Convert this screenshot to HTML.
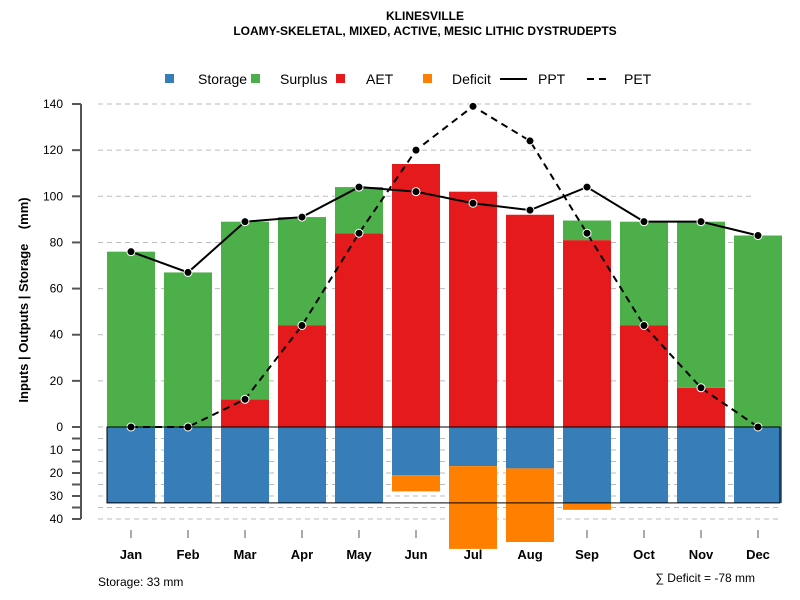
<!DOCTYPE html>
<html><head><meta charset="utf-8"><style>
body{margin:0;background:#fff;}
svg{display:block;font-family:"Liberation Sans",Arial,sans-serif;}
</style></head><body>
<svg id="chart" width="800" height="600" viewBox="0 0 800 600">
<text x="425" y="20" text-anchor="middle" font-size="12" font-weight="bold">KLINESVILLE</text>
<text x="425" y="35" text-anchor="middle" font-size="12" font-weight="bold">LOAMY-SKELETAL, MIXED, ACTIVE, MESIC LITHIC DYSTRUDEPTS</text>
<g id="grid"></g><g id="ticks"></g><g id="bars"></g><g id="lines"></g><g id="axes"></g>
<g font-size="14">
<rect x="165" y="74" width="9" height="9" fill="#377EB8"/>
<text x="198" y="84">Storage</text>
<rect x="251" y="74" width="9" height="9" fill="#4DAF4A"/>
<text x="280" y="84">Surplus</text>
<rect x="336" y="74" width="9" height="9" fill="#E41A1C"/>
<text x="366" y="84">AET</text>
<rect x="423" y="74" width="9" height="9" fill="#FF7F00"/>
<text x="452" y="84">Deficit</text>
<line x1="500" y1="79" x2="527" y2="79" stroke="#000" stroke-width="2"/>
<text x="538" y="84">PPT</text>
<line x1="587" y1="79" x2="608" y2="79" stroke="#000" stroke-width="2" stroke-dasharray="7,5"/>
<text x="624" y="84">PET</text>
</g>
<text transform="translate(28,300) rotate(-90)" text-anchor="middle" font-size="13" font-weight="bold">Inputs | Outputs | Storage&#160;&#160;&#160;&#160;(mm)</text>
<text x="98" y="586" font-size="12">Storage: 33 mm</text>
<text x="755" y="582" text-anchor="end" font-size="12">∑ Deficit = -78 mm</text>
</svg>
<script>
const months=["Jan","Feb","Mar","Apr","May","Jun","Jul","Aug","Sep","Oct","Nov","Dec"];
const ppt=[76,67,89,91,104,102,97,94,104,89,89,83];
const pet=[0,0,12,44,84,120,139,124,84,44,17,0];
const aet=[0,0,12,44,84,114,102,92,81,44,17,0];
const surplus=[76,67,77,47,20,0,0,0,8.5,45,72,83];
const storage=[33,33,33,33,33,21,17,18,33,33,33,33];
const deficit=[0,0,0,0,0,7,36,32,3,0,0,0];
const posTicks=[0,20,40,60,80,100,120,140];
const negTicks=[10,20,30,40];
const storageCap=33;
const NS="http://www.w3.org/2000/svg";
const y0=427,k=2.307;
const yPos=v=>y0-v*k, yNeg=v=>y0+v*2.3;
const xC=i=>131+i*57, bw=48;
function mk(t,a,p){const e=document.createElementNS(NS,t);for(const q in a)e.setAttribute(q,a[q]);document.getElementById(p).appendChild(e);return e;}
posTicks.forEach(v=>{if(v>0){const g=mk('line',{x1:98,x2:755,y1:yPos(v),y2:yPos(v),stroke:'#bbb','stroke-dasharray':'5,4'},'grid');

}});
for(let v=0;v<=40;v+=5){const g=mk('line',{x1:98,x2:780,y1:yNeg(v),y2:yNeg(v),stroke:'#bbb','stroke-dasharray':'5,4'},'grid');

}
months.forEach((m,i)=>{
 const x=xC(i)-bw/2;
 let r=mk('rect',{x:x,y:yPos(aet[i]),width:bw,height:aet[i]*k,fill:'#E41A1C'},'bars');
 
 
 r=mk('rect',{x:x,y:yPos(aet[i]+surplus[i]),width:bw,height:surplus[i]*k,fill:'#4DAF4A'},'bars');
 
 
 r=mk('rect',{x:x,y:y0,width:bw,height:storage[i]*2.3,fill:'#377EB8'},'bars');
 
 
 r=mk('rect',{x:x,y:yNeg(storage[i]),width:bw,height:deficit[i]*2.3,fill:'#FF7F00'},'bars');
 
 
 const t=mk('line',{x1:xC(i),x2:xC(i),y1:530,y2:538,stroke:'#555'},'ticks');
 
 
 const l=mk('text',{x:xC(i),y:559,'text-anchor':'middle','font-size':13,'font-weight':'bold'},'axes');l.textContent=m;
 
 
});
let b=mk('rect',{x:107,y:y0,width:673,height:storageCap*2.3,fill:'none',stroke:'#000','stroke-width':1},'bars');


function series(arr,dash,name){
 const p=mk('polyline',{points:arr.map((v,i)=>xC(i)+','+yPos(v)).join(' '),fill:'none',stroke:'#000','stroke-width':2,'stroke-dasharray':dash},'lines');
 
 
 arr.forEach((v,i)=>{const c=mk('circle',{cx:xC(i),cy:yPos(v),r:4,fill:'#000',stroke:'#fff','stroke-width':1},'lines');
 
 });
}
series(ppt,'none','ppt');series(pet,'7,5','pet');
const ax=mk('line',{x1:81,x2:81,y1:yPos(140),y2:yNeg(40),stroke:'#555','stroke-width':2},'axes');


posTicks.forEach(v=>{const t=mk('line',{x1:72,x2:81,y1:yPos(v),y2:yPos(v),stroke:'#555','stroke-width':2},'axes');


const l=mk('text',{x:63,y:yPos(v)+4,'text-anchor':'end','font-size':12},'axes');l.textContent=v;

});
for(let v=5;v<=40;v+=5){const t=mk('line',{x1:72,x2:81,y1:yNeg(v),y2:yNeg(v),stroke:'#555','stroke-width':2},'axes');

}
negTicks.forEach(v=>{const l=mk('text',{x:63,y:yNeg(v)+4,'text-anchor':'end','font-size':12},'axes');l.textContent=v;

});
const zl=mk('line',{x1:107,x2:780,y1:y0,y2:y0,stroke:'#000'},'axes');


</script>
</body></html>
